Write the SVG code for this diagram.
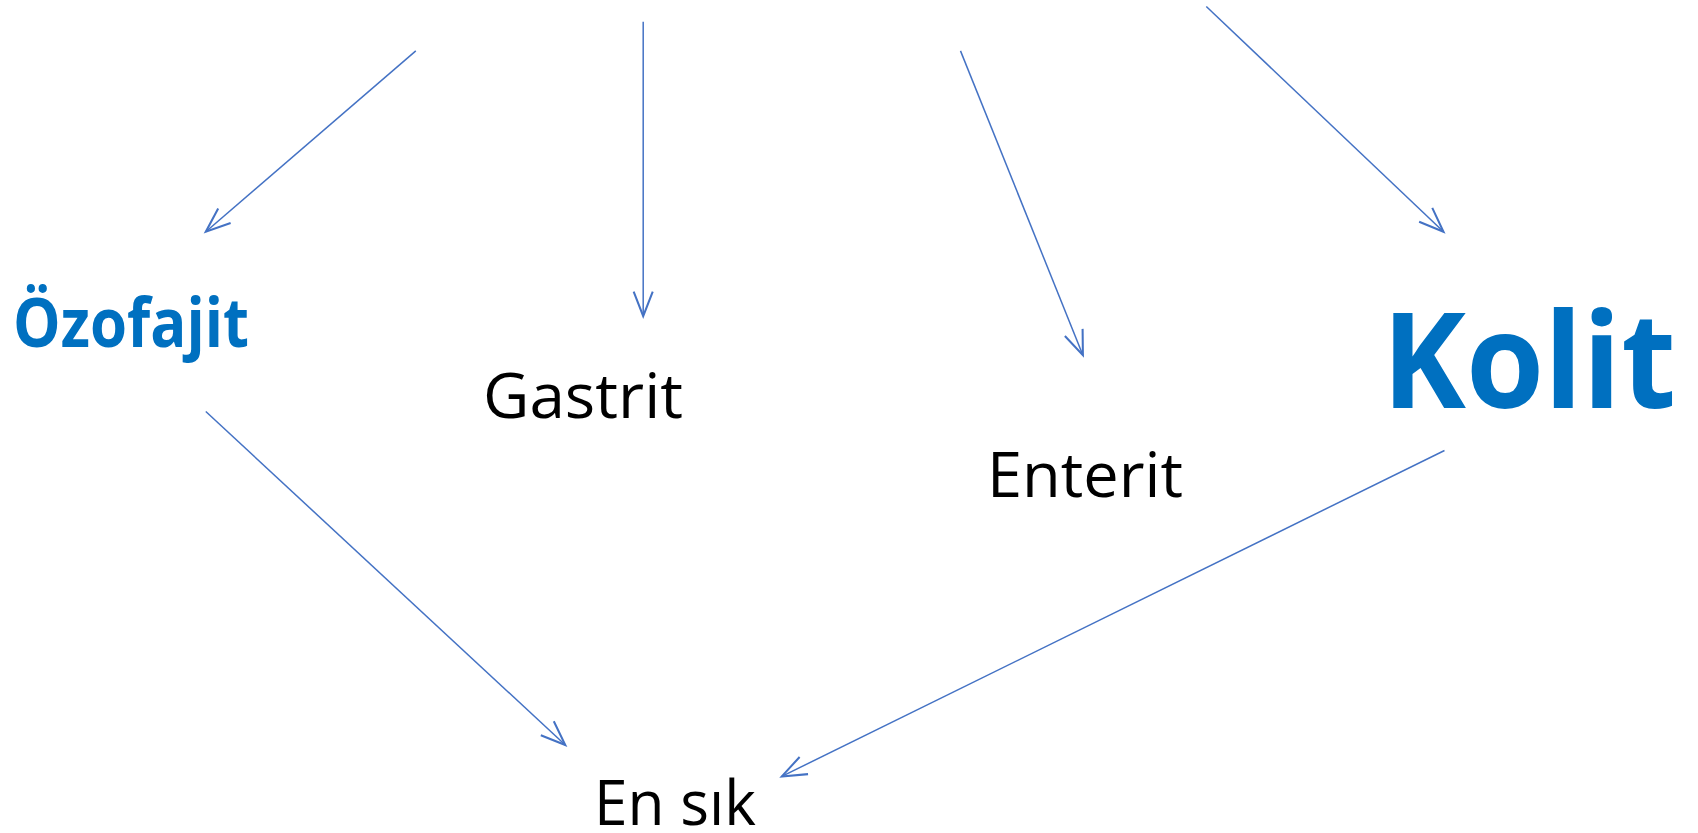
<svg xmlns="http://www.w3.org/2000/svg" width="1698" height="833" viewBox="0 0 1698 833">
<style>
.c line{stroke:#4472C4;stroke-width:1.5;fill:none;marker-end:url(#ah)}
.reg{font-family:"Open Sans","Noto Sans",sans-serif;font-size:63px;fill:#000}
.bold{font-family:"Open Sans","Noto Sans",sans-serif;font-weight:bold;fill:#0070C0}
</style>
<defs>
<marker id="ah" markerUnits="userSpaceOnUse" markerWidth="30" markerHeight="30" refX="0" refY="0" viewBox="-20 -10 22 20" orient="auto" overflow="visible">
<path d="M-18,-7 L0,0 L-18,7" fill="none" stroke="#4472C4" stroke-width="1.5"/>
</marker>
</defs>
<rect width="1698" height="833" fill="#fff"/>
<g id="connectors" class="c">
<line x1="415.8" y1="50.9" x2="205.8" y2="231.7"/>
<line x1="643.2" y1="21.7" x2="643.2" y2="316.2"/>
<line x1="960.5" y1="50.9" x2="1082.9" y2="355.2"/>
<line x1="1206.3" y1="6.5" x2="1443.5" y2="231.7"/>
<line x1="205.8" y1="411.5" x2="565.3" y2="745"/>
<line x1="1444.5" y1="450.5" x2="781.8" y2="776.4"/>
</g>
<g id="ozofajit"><text class="bold" x="13" y="347" font-size="68" textLength="236" lengthAdjust="spacingAndGlyphs">Özofajit</text></g>
<g id="gastrit"><text class="reg" x="483" y="418" textLength="200" lengthAdjust="spacingAndGlyphs">Gastrit</text></g>
<g id="enterit"><text class="reg" x="987" y="497" textLength="196" lengthAdjust="spacingAndGlyphs">Enterit</text></g>
<g id="kolit"><text class="bold" x="1382" y="408" font-size="132" textLength="294" lengthAdjust="spacingAndGlyphs">Kolit</text></g>
<g id="ensik"><text class="reg" x="594" y="825" textLength="162" lengthAdjust="spacingAndGlyphs">En sık</text></g>
</svg>
